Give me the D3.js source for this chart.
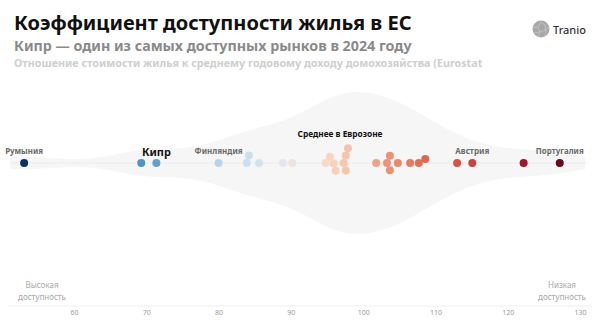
<!DOCTYPE html>
<html>
<head>
<meta charset="utf-8">
<script src="https://cdn.jsdelivr.net/npm/d3@7"></script>
<style>
  html, body { margin: 0; padding: 0; background: #fff; }
  svg { display: block; }
  text { font-family: "Noto Sans", "DejaVu Sans", sans-serif; }
</style>
</head>
<body>
<svg id="chart" width="600" height="323"></svg>
<script>
// ---------------- DATA ----------------
const title = "Коэффициент доступности жилья в ЕС";
const subtitle = "Кипр — один из самых доступных рынков в 2024 году";
const note = "Отношение стоимости жилья к среднему годовому доходу домохозяйства (Eurostat";

// house price to income ratio, one value per country (sorted)
const ratios = [53.1, 69.3, 71.4, 80.0, 83.9, 84.2, 85.6, 88.9, 90.2,
  94.8, 95.4, 95.9, 96.2, 97.3, 97.6, 97.6, 97.9,
  101.8, 103.3, 103.7, 103.7, 104.8,
  106.5, 107.7, 108.6,
  113.0, 115.1, 122.2, 127.2];
// labels for the highlighted countries (index into ratios)
const labelNames = ["Румыния", "Кипр", "Финляндия", "Австрия", "Португалия"];
const labelIndex = [0, 2, 3, 26, 28];
const eurozoneLabel = "Среднее в Еврозоне";
const eurozoneAverage = 96.8;
const tickValues = [60, 70, 80, 90, 100, 110, 120, 130];
const leftNote = ["Высокая", "доступность"];
const rightNote = ["Низкая", "доступность"];
// colour stops (value -> colour)
const colorStops = [53, 70, 80, 84, 89, 95, 98, 102, 104, 107, 109, 113, 115, 122, 127];
const colorRange = ["#0b3066", "#5597c5", "#b7d3e7", "#cddfec", "#e6e7ea", "#f9d7c5",
  "#f6c3a8", "#eea184", "#e98f71", "#e27860", "#da6450", "#d05745", "#c84540", "#9c1a2d", "#660a20"];

// ---------------- CHART ----------------
const svg = d3.select("#chart");
const cy = 163;
const R = 4;

const x = d3.scaleLinear().domain([60, 130]).range([74, 580]);
const color = d3.scaleLinear().domain(colorStops).range(colorRange).interpolate(d3.interpolateLab);

function fit(sel, target) {
  const w = sel.node().getComputedTextLength();
  const fs = parseFloat(sel.attr("font-size"));
  sel.attr("font-size", (fs * target / w).toFixed(2));
  return sel;
}

// header
fit(svg.append("text").attr("x", 14).attr("y", 30).attr("font-size", 20)
  .attr("font-weight", 700).attr("fill", "#111").text(title), 398);
fit(svg.append("text").attr("x", 14).attr("y", 51).attr("font-size", 15)
  .attr("font-weight", 700).attr("fill", "#8a8a8a").text(subtitle), 398);
fit(svg.append("text").attr("x", 14).attr("y", 67).attr("font-size", 11)
  .attr("font-weight", 700).attr("fill", "#cfcfcf").text(note), 469);

// logo
const logo = svg.append("g").attr("transform", "translate(541,29)");
logo.append("circle").attr("r", 8.5).attr("fill", "#a8a8a8");
logo.append("path")
  .attr("d", "M-8,-2 L-3,-2 L0,-7 M-3,-2 L-1,3 L5,1 L8,-2 M-1,3 L-3,8 M5,1 L4,7 M0,-7 L4,-4 L5,1 M-7,4 L-1,3")
  .attr("fill", "none").attr("stroke", "#c9c9c9").attr("stroke-width", 0.7);
fit(svg.append("text").attr("x", 553).attr("y", 34).attr("font-size", 12)
  .attr("font-weight", 500).attr("fill", "#333").text("Tranio"), 33);

// violin (kernel density of the values)
const bw = 5;
const kern = u => Math.exp(-0.5 * u * u) / Math.sqrt(2 * Math.PI);
const grid = d3.range(51.2, 131.01, 0.5);
const dens = grid.map(g => [g, d3.sum(ratios, v => kern((g - v) / bw)) / (ratios.length * bw)]);
const hw = d3.scaleLinear().domain([0, d3.max(dens, d => d[1])]).range([0, 71]);
const area = d3.area()
  .x(d => x(d[0]))
  .y0(d => cy + hw(d[1]))
  .y1(d => cy - hw(d[1]))
  .curve(d3.curveBasis);
svg.append("path").datum(dens).attr("d", area).attr("fill", "#f6f6f6");

// center line
svg.append("line").attr("x1", x(51.2)).attr("x2", x(131)).attr("y1", cy).attr("y2", cy)
  .attr("stroke", "#ececec").attr("stroke-width", 1);

// beeswarm layout
const nodes = ratios.map((v, i) => ({ v, i, cx: x(v), y: 0 }));
const placed = [];
const D = 2 * R - 0.3;
nodes.forEach(n => {
  const near = placed.filter(p => Math.abs(p.cx - n.cx) < D);
  const cands = [0];
  near.forEach(p => {
    const dy = Math.sqrt(D * D - (p.cx - n.cx) ** 2);
    cands.push(p.y - dy, p.y + dy);
  });
  cands.sort((a, b) => Math.abs(a) - Math.abs(b) || a - b);
  for (const c of cands) {
    if (near.every(p => (p.cx - n.cx) ** 2 + (p.y - c) ** 2 >= D * D - 0.01)) { n.y = c; break; }
  }
  placed.push(n);
});

svg.append("g").selectAll("circle").data(nodes).join("circle")
  .attr("cx", d => d.cx).attr("cy", d => cy + d.y).attr("r", R)
  .attr("fill", d => color(d.v));

// labels
const widths = { "Румыния": 38, "Кипр": 29, "Финляндия": 48, "Австрия": 34, "Португалия": 48 };
labelIndex.forEach((idx, k) => {
  const name = labelNames[k];
  const big = name === "Кипр";
  const t = svg.append("text")
    .attr("x", x(ratios[idx])).attr("y", big ? 156 : 154)
    .attr("text-anchor", "middle")
    .attr("font-size", big ? 12 : 8)
    .attr("font-weight", 700)
    .attr("fill", big ? "#111" : "#6b6b6b")
    .text(name);
  fit(t, widths[name]);
});
fit(svg.append("text").attr("x", x(eurozoneAverage)).attr("y", 137).attr("text-anchor", "middle")
  .attr("font-size", 8).attr("font-weight", 700).attr("fill", "#111").text(eurozoneLabel), 85);

// axis
svg.append("line").attr("x1", 8).attr("x2", 592).attr("y1", 306).attr("y2", 306)
  .attr("stroke", "#efefef").attr("stroke-width", 1);
const axis = d3.axisBottom(x).tickValues(tickValues).tickSize(0).tickPadding(0);
const ag = svg.append("g").attr("transform", "translate(0,310)").call(axis);
ag.select(".domain").remove();
ag.selectAll("text").attr("font-size", 7).attr("fill", "#9a9a9a")
  .attr("font-family", "'Noto Sans', sans-serif").attr("dy", "0.71em");

[[leftNote, 42], [rightNote, 562]].forEach(([lines, cx]) => {
  lines.forEach((s, j) => {
    svg.append("text").attr("x", cx).attr("y", 288 + j * 12).attr("text-anchor", "middle")
      .attr("font-size", 8).attr("fill", "#a8a8a8").text(s);
  });
});
</script>
</body>
</html>
